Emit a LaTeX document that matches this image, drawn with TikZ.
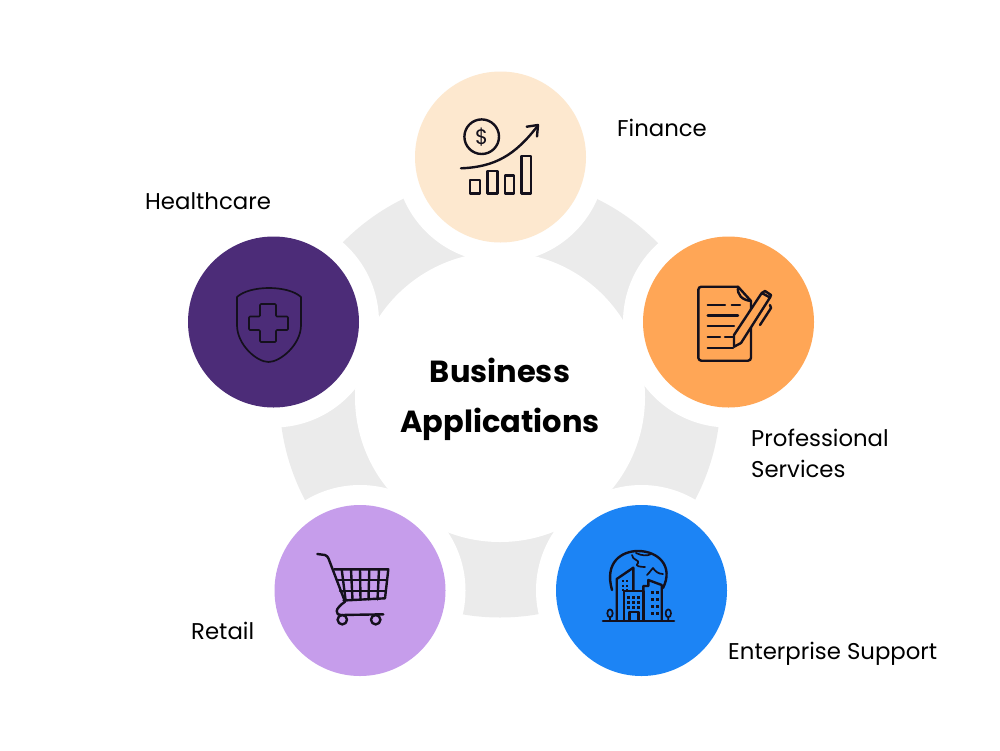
\documentclass[tikz,border=0pt]{standalone}
\usepackage{fontspec}
\setmainfont{Poppins}
\usepackage{xcolor}
\definecolor{ringgray}{HTML}{EBEBEB}
\definecolor{financecol}{HTML}{FDE8CF}
\definecolor{servicecol}{HTML}{FFA656}
\definecolor{supportcol}{HTML}{1C84F5}
\definecolor{retailcol}{HTML}{C69DEB}
\definecolor{healthcol}{HTML}{4C2C78}
\definecolor{inkcol}{HTML}{14101C}
\usetikzlibrary{positioning}
\tikzset{
  petal/.style={circle,minimum size=171pt,inner sep=0pt},
  halo/.style={circle,fill=white,minimum size=211pt,inner sep=0pt},
  tag/.style={font=\fontsize{22.8}{31}\selectfont,align=left,text=black,inner sep=0pt},
  icon/.style={draw=inkcol,line width=2.4pt,line cap=round,line join=round},
  thin icon/.style={draw=inkcol,line width=1.7pt,line cap=round,line join=round},
  window/.style={fill=inkcol}
}
\begin{document}
\begin{tikzpicture}[x=1pt,y=-1pt]
  \useasboundingbox (0,0) rectangle (1000,750);
  % ring behind everything
  \coordinate (mid) at (500,397);
  \fill[ringgray] (mid) circle (220.5pt);
  \node[halo] at (500.5,157) {};
  \node[halo] at (728.5,322) {};
  \node[halo] at (641.5,590.5) {};
  \node[halo] at (360,590.5) {};
  \node[halo] at (273.5,322) {};
  \node[circle,fill=white,minimum size=290pt,inner sep=0pt] (hub) at (mid) {};
  \node[font=\fontsize{30.5}{50}\selectfont\bfseries,align=center,inner sep=0pt] (title) at (500,399) {Business\\Applications};
  % the five circles
  \node[petal,fill=financecol] (finance) at (500.5,157) {};
  \node[petal,fill=servicecol] (services) at (728.5,322) {};
  \node[petal,fill=supportcol] (support) at (641.5,590.5) {};
  \node[petal,fill=retailcol] (retail) at (360,590.5) {};
  \node[petal,fill=healthcol] (health) at (273.5,322) {};
  % labels
  \node[tag,anchor=west] (financelab) at (617,128) {Finance};
  \node[tag,anchor=west] (serviceslab) at (751,453) {Professional\\Services};
  \node[tag,anchor=west] (supportlab) at (728,654) {Enterprise Support};
  \node[tag,anchor=west] (retaillab) at (191,631) {Retail};
  \node[tag,anchor=west] (healthlab) at (145,201) {Healthcare};
  % finance icon
  \draw[icon] (481.7,136.7) circle (17.3pt);
  \node[font=\fontsize{21}{21}\selectfont,text=inkcol,inner sep=0pt] (dollar) at (481.7,136.7) {\$};
  \draw[icon] (461,168.3) .. controls (495,167) and (515,155) .. (537,126.7);
  \draw[icon] (526.7,126.7) -- (538,125) -- (537,136.5);
  \draw[icon] (470,180) rectangle (480,193.3);
  \draw[icon] (487.3,170.7) rectangle (497.3,193.3);
  \draw[icon] (504.7,175.3) rectangle (514,193.3);
  \draw[icon] (521.3,155.7) rectangle (530.7,193.3);
  % services icon
  \draw[icon,rounded corners=3pt] (738,286.7) -- (698.3,286.7) -- (698.3,360.7) -- (751,360.7) -- (751,301) ;
  \draw[icon] (738,286.7) -- (751,301);
  \draw[icon] (738,287) .. controls (737,295) and (742,300) .. (751,301);
  \draw[icon] (707.7,305) -- (725,305) (731.7,305) -- (740,305)
    (707.7,315.3) -- (738,315.3) (707.7,326) -- (734,326)
    (707.7,336.7) -- (720,336.7) (725,336.7) -- (735,336.7) (707.7,347.7) -- (733,347.7);
  \draw[icon,fill=servicecol] (734,346.7) -- (734,335) -- (761.7,293) -- (770,297.5) -- (741,343) -- cycle;
  \draw[icon] (761.7,293) -- (765,291) -- (771,295) -- (770,297.5);
  \draw[icon] (760,325) -- (771,308) -- (770,305);
  % support icon
  \draw[icon] (612,590) .. controls (604,562) and (622,551) .. (638,551)
    .. controls (658,551) and (674,566) .. (663,588);
  \draw[thin icon] (632,555) .. controls (632,560) and (640,560) .. (638,563)
    .. controls (634,566) and (640,567) .. (645,567);
  \draw[thin icon] (636,553) .. controls (642,556) and (648,556) .. (651,554);
  \draw[thin icon] (647,575) .. controls (650,572) and (651,570) .. (653,568)
    .. controls (655,571) and (658,574) .. (663,574);
  \draw[icon] (616.7,620) -- (616.7,579) -- (633.3,567.7) -- (633.3,590);
  \draw[icon] (643.3,591) -- (643.3,586) -- (648.3,586) -- (648.3,580) -- (661.7,585) -- (661.7,620);
  \draw[icon] (624,620) -- (624,591) -- (643.3,591) -- (643.3,620);
  \draw[icon] (629.5,620) -- (629.5,612) -- (638.3,612) -- (638.3,620);
  \foreach \xa in {628.5,633.5,638.5} \foreach \ya in {597,602,607}
    \fill[window] (\xa-1.5,\ya-1.5) rectangle ++(3,3);
  \foreach \xa in {652.3,657.3} \foreach \ya in {592.3,599.3,606.7,613.3}
    \fill[window] (\xa-1.5,\ya-1.5) rectangle ++(3,3);
  \foreach \xa in {622.7,627} \foreach \ya in {581,586,590}
    \fill[window] (\xa-1.2,\ya-1.2) rectangle ++(2.4,2.4);
  \draw[icon,line width=2.6pt] (603,621) -- (674,621);
  \draw[thin icon] (610,613.3) ellipse (2.7pt and 4pt) (610,617.5) -- (610,621);
  \draw[thin icon] (668.3,613.3) ellipse (2.7pt and 4pt) (668.3,617.5) -- (668.3,621);
  % retail icon
  \draw[icon] (317.3,554) -- (325,555) .. controls (327,556) and (328,557) .. (328.5,558.5)
    -- (345,601.7) .. controls (340,605) and (336.7,609) .. (336.7,611)
    .. controls (336.7,614) and (338,615) .. (341,615) -- (383.3,614.3);
  \draw[icon] (334.3,569.3) -- (388.3,569.3) -- (385,598.3) -- (343.5,600.5);
  \draw[icon] (336.7,580) -- (387,580) (340,591) -- (386,591);
  \foreach \xa/\xb in {341.7/345.5,351/352.5,360/360.5,369.3/368.5,379/377.5}
    \draw[icon] (\xa,569.3) -- (\xb,599.5);
  \draw[icon] (342.3,619.7) circle (4.7pt);
  \draw[icon] (375.7,619.7) circle (4.7pt);
  % health icon
  \draw[thin icon] (237,297) .. controls (250,285) and (288,285) .. (301,297)
    -- (301,325) .. controls (301,345) and (280,362) .. (268.5,362)
    .. controls (257,362) and (237,345) .. (237,325) -- cycle;
  \draw[thin icon,rounded corners=1pt] (260,304) -- (276,304) -- (276,316.5) -- (288,316.5) -- (288,330) -- (276,330) -- (276,342) -- (260,342) -- (260,330) -- (249,330) -- (249,316.5) -- (260,316.5) -- cycle;
\end{tikzpicture}
\end{document}
